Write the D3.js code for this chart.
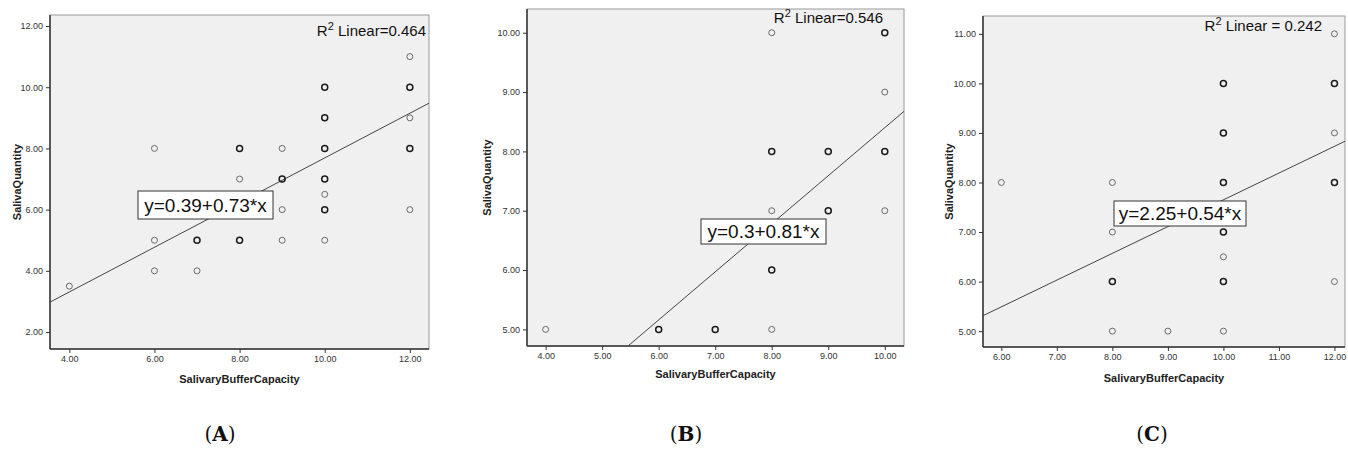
<!DOCTYPE html>
<html>
<head>
<meta charset="utf-8">
<script src="https://cdn.jsdelivr.net/npm/d3@7/dist/d3.min.js"></script>
<style>
  html, body { margin: 0; padding: 0; background: #fff; }
  svg { display: block; }
  text { font-family: "Liberation Sans", Arial, sans-serif; }
</style>
</head>
<body>
<svg id="chart" width="1348" height="450"></svg>
<script>
// ---------- Data ----------
// Panel A
const aX    = [4, 6, 6, 6, 7, 7, 8, 8, 8, 9, 9, 9, 9, 10, 10, 10, 10, 10, 10, 10, 12, 12, 12, 12, 12];
const aY    = [3.5, 8, 5, 4, 5, 4, 8, 7, 5, 8, 7, 6, 5, 10, 9, 8, 7, 6.5, 6, 5, 11, 10, 9, 8, 6];
const aDark = [0, 0, 0, 0, 1, 0, 1, 0, 1, 0, 1, 0, 0, 1, 1, 1, 1, 0, 1, 0, 0, 1, 0, 1, 0];
const aXTicks = [4, 6, 8, 10, 12];
const aYTicks = [2, 4, 6, 8, 10, 12];
const aFit = { intercept: 0.39, slope: 0.73, eq: "y=0.39+0.73*x", r2Label: "Linear=0.464" };

// Panel B
const bX    = [4, 6, 7, 8, 8, 8, 8, 8, 9, 9, 10, 10, 10, 10];
const bY    = [5, 5, 5, 5, 6, 7, 8, 10, 8, 7, 10, 9, 8, 7];
const bDark = [0, 1, 1, 0, 1, 0, 1, 0, 1, 1, 1, 0, 1, 0];
const bXTicks = [4, 5, 6, 7, 8, 9, 10];
const bYTicks = [5, 6, 7, 8, 9, 10];
const bFit = { intercept: 0.3, slope: 0.81, eq: "y=0.3+0.81*x", r2Label: "Linear=0.546" };

// Panel C
const cX    = [6, 8, 8, 8, 8, 9, 10, 10, 10, 10, 10, 10, 10, 12, 12, 12, 12, 12];
const cY    = [8, 8, 7, 6, 5, 5, 10, 9, 8, 7, 6.5, 6, 5, 11, 10, 9, 8, 6];
const cDark = [0, 0, 0, 1, 0, 0, 1, 1, 1, 1, 0, 1, 0, 0, 1, 0, 1, 0];
const cXTicks = [6, 7, 8, 9, 10, 11, 12];
const cYTicks = [5, 6, 7, 8, 9, 10, 11];
const cFit = { intercept: 2.25, slope: 0.54, eq: "y=2.25+0.54*x", r2Label: "Linear = 0.242" };

const xTitle = "SalivaryBufferCapacity";
const yTitle = "SalivaQuantity";
const captions = ["A", "B", "C"];

// ---------- Layout ----------
const panels = [
  { x: aX, y: aY, dark: aDark, xt: aXTicks, yt: aYTicks, fit: aFit, cap: captions[0],
    box: { l: 50, r: 429, t: 15, b: 349 }, xd: [3.546, 12.45], yd: [1.446, 12.36],
    r2: { xr: 426, y: 36 }, eqBox: { x: 138, y: 191, w: 135, h: 28 },
    yTitleX: 17, xTitleY: 383, capX: 220 },
  { x: bX, y: bY, dark: bDark, xt: bXTicks, yt: bYTicks, fit: bFit, cap: captions[1],
    box: { l: 527, r: 904, t: 9, b: 346 }, xd: [3.67, 10.34], yd: [4.72, 10.40],
    r2: { xr: 883, y: 23 }, eqBox: { x: 701, y: 219, w: 125, h: 25 },
    yTitleX: 487, xTitleY: 378, capX: 686 },
  { x: cX, y: cY, dark: cDark, xt: cXTicks, yt: cYTicks, fit: cFit, cap: captions[2],
    box: { l: 983, r: 1345, t: 16, b: 347 }, xd: [5.67, 12.19], yd: [4.68, 11.36],
    r2: { xr: 1322, y: 31 }, eqBox: { x: 1114, y: 201, w: 132, h: 25 },
    yTitleX: 949, xTitleY: 382, capX: 1152 }
];

const svg = d3.select("#chart");
const fmt = d3.format(".2f");

panels.forEach((p, i) => {
  const { l, r, t, b } = p.box;
  const xs = d3.scaleLinear().domain(p.xd).range([l, r]);
  const ys = d3.scaleLinear().domain(p.yd).range([b, t]);
  const g = svg.append("g");

  g.append("rect").attr("x", l).attr("y", t).attr("width", r - l).attr("height", b - t)
    .attr("fill", "#f0f0f0").attr("stroke", "#9a9a9a").attr("stroke-width", 1);

  const clipId = "clip" + i;
  svg.append("clipPath").attr("id", clipId).append("rect")
    .attr("x", l).attr("y", t).attr("width", r - l).attr("height", b - t);

  const xAxis = d3.axisBottom(xs).tickValues(p.xt).tickFormat(fmt).tickSize(4).tickSizeOuter(0);
  const yAxis = d3.axisLeft(ys).tickValues(p.yt).tickFormat(fmt).tickSize(4).tickSizeOuter(0);
  const gx = g.append("g").attr("transform", `translate(0,${b})`).call(xAxis);
  const gy = g.append("g").attr("transform", `translate(${l},0)`).call(yAxis);
  [gx, gy].forEach(ax => {
    ax.select(".domain").attr("stroke", "#333").attr("stroke-width", 1.5);
    ax.selectAll(".tick line").attr("stroke", "#333");
    ax.selectAll(".tick text").attr("fill", "#333").style("font-size", "9px")
      .style("font-family", "'Liberation Sans', Arial, sans-serif");
  });
  gx.select(".domain").attr("d", `M${l},0H${r}`);
  gy.select(".domain").attr("d", `M0,${b}V${t}`);

  g.append("text").attr("x", (l + r) / 2).attr("y", p.xTitleY).attr("text-anchor", "middle")
    .style("font-size", "11px").style("font-weight", "bold").attr("fill", "#222").text(xTitle);
  g.append("text").attr("transform", `translate(${p.yTitleX},${(t + b) / 2}) rotate(-90)`)
    .attr("text-anchor", "middle").attr("dy", "0.35em")
    .style("font-size", "11px").style("font-weight", "bold").attr("fill", "#222").text(yTitle);

  const x0 = p.xd[0], x1 = p.xd[1];
  g.append("line").attr("clip-path", `url(#${clipId})`)
    .attr("x1", xs(x0)).attr("y1", ys(p.fit.intercept + p.fit.slope * x0))
    .attr("x2", xs(x1)).attr("y2", ys(p.fit.intercept + p.fit.slope * x1))
    .attr("stroke", "#444").attr("stroke-width", 1);

  const pts = p.x.map((v, k) => ({ x: v, y: p.y[k], d: p.dark[k] }));
  g.selectAll("circle.pt").data(pts).join("circle").attr("class", "pt")
    .attr("cx", d => xs(d.x)).attr("cy", d => ys(d.y)).attr("r", 3)
    .attr("fill", "none")
    .attr("stroke", d => d.d ? "#1a1a1a" : "#6a6a6a")
    .attr("stroke-width", d => d.d ? 1.5 : 1);

  const rt = g.append("text").attr("x", p.r2.xr).attr("y", p.r2.y).attr("text-anchor", "end")
    .style("font-size", "15px").attr("fill", "#111");
  rt.append("tspan").text("R");
  rt.append("tspan").attr("dy", -6).style("font-size", "11px").text("2");
  rt.append("tspan").attr("dy", 6).text(" " + p.fit.r2Label);

  const eb = p.eqBox;
  g.append("rect").attr("x", eb.x).attr("y", eb.y).attr("width", eb.w).attr("height", eb.h)
    .attr("fill", "#fff").attr("stroke", "#333").attr("stroke-width", 1);
  g.append("text").attr("x", eb.x + eb.w / 2).attr("y", eb.y + eb.h / 2).attr("dy", "0.36em")
    .attr("text-anchor", "middle").style("font-size", "19px").attr("fill", "#111").text(p.fit.eq);

  const ct = svg.append("text").attr("x", p.capX).attr("y", 441).attr("text-anchor", "middle")
    .style("font-family", "'DejaVu Serif', 'Liberation Serif', serif").style("font-size", "20px").attr("fill", "#111");
  ct.append("tspan").text("(");
  ct.append("tspan").style("font-weight", "bold").text(p.cap);
  ct.append("tspan").text(")");
});
</script>
</body>
</html>
